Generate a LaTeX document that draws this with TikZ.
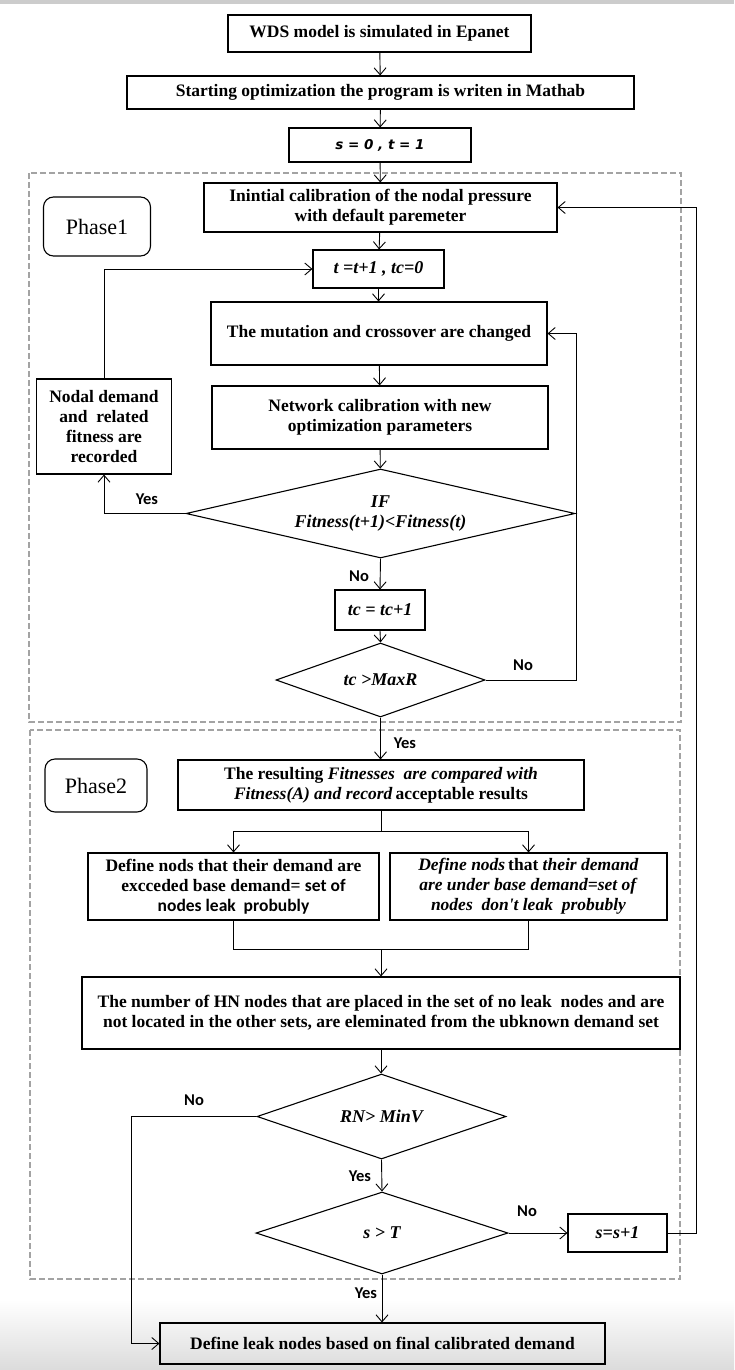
\documentclass[tikz,border=0pt]{standalone}
\usepackage{fontspec}
\setmainfont{Liberation Serif}
\newfontfamily\calfont{Carlito}
\newfontfamily\dvfont{DejaVu Sans}
\usetikzlibrary{arrows.meta,shapes.geometric}
\begin{document}
\begin{tikzpicture}[x=1pt,y=-1pt,
  box/.style={draw, line width=1.1pt, inner sep=0pt, align=center,
    font={\fontsize{17.5}{20}\selectfont\bfseries}},
  dia/.style={draw, diamond, line width=1.1pt, inner sep=0pt},
  dtext/.style={align=center, inner sep=0pt, font={\fontsize{18}{20}\selectfont\bfseries\itshape}},
  arr/.style={-{Straight Barb[length=7pt,width=12pt]}, line width=0.9pt},
  ln/.style={line width=0.9pt},
  lbl/.style={inner sep=0pt, font={\fontsize{16.5}{18}\selectfont\calfont\bfseries}},
  phase/.style={draw, line width=1.1pt, rounded corners=10pt, inner sep=0pt,
    font={\fontsize{22}{24}\selectfont}},
  dashbox/.style={draw=black!36, line width=1.6pt, dash pattern=on 6pt off 3pt}
]
\useasboundingbox (0,0) rectangle (734,1370);
% background strips
\fill[black!20] (0,0) rectangle (734,4);
\shade[top color=white, bottom color=black!14] (0,1300) rectangle (734,1370);

% dashed phase frames
\draw[dashbox] (29,173) rectangle (681,722);
\draw[dashbox] (30,730) rectangle (680,1279);

% nodes
\node[box, minimum width=303, minimum height=37] (wds) at (379.5,33.5) {WDS model is simulated in Epanet};
\node[box, minimum width=507, minimum height=33] (start) at (380.5,92.5) {Starting optimization the program is writen in Mathab};
\node[box, minimum width=182, minimum height=34, font={\fontsize{13.5}{15}\selectfont\dvfont\bfseries\itshape}] (s0) at (380,145) {s = 0 , t = 1};
\node[box, minimum width=353, minimum height=49] (init) at (380.5,207.5) {Inintial calibration of the nodal pressure\\with default paremeter};
\node[phase, minimum width=107, minimum height=59] (ph1) at (97,226.5) {Phase1};
\node[box, minimum width=131, minimum height=38, font={\fontsize{18}{20}\selectfont\bfseries\itshape}] (tt) at (378.5,269) {t =t+1 , tc=0};
\node[box, minimum width=336, minimum height=63] (mut) at (379,333.5) {The mutation and crossover are changed};
\node[box, minimum width=336, minimum height=63] (net) at (380,417.5) {Network calibration with new\\optimization parameters};
\node[box, minimum width=135, minimum height=95] (nodal) at (104,426.5) {Nodal demand\\and\ \ related\\fitness are\\recorded};
\node[dia, minimum width=389, minimum height=89] (if) at (380.5,513.5) {};
\node[dtext] (iftext) at (if.center) {IF\\Fitness(t+1)<Fitness(t)};
\node[box, minimum width=90, minimum height=40, font={\fontsize{18}{20}\selectfont\bfseries\itshape}] (tc) at (380,610) {tc = tc+1};
\node[dia, minimum width=209, minimum height=74] (max) at (380.5,680) {};
\node[dtext] (maxtext) at (max.center) {tc >MaxR};

\node[phase, minimum width=102, minimum height=53] (ph2) at (96,785.5) {Phase2};
\node[box, minimum width=406, minimum height=50] (res) at (381,785) {The resulting \textit{Fitnesses\ \ are compared with}\\\textit{Fitness(A) and record}\,acceptable results};
\node[box, minimum width=291, minimum height=67] (dl) at (233.5,886.5) {Define nods that their demand are\\excceded base demand= {\calfont set of}\\{\calfont nodes leak\ \ probubly}};
\node[box, minimum width=277, minimum height=67] (dr) at (528.5,886.5) {\textit{Define nods}\,that \textit{their demand}\\\textit{are under base demand=set of}\\\textit{nodes\ \ don\textquotesingle t leak\ \ probubly}};
\node[box, minimum width=598, minimum height=72] (hn) at (381,1013) {The number of HN nodes that are placed in the set of no leak\ \ nodes and are\\not located in the other sets, are eleminated from the ubknown demand set};
\node[dia, minimum width=249, minimum height=85] (rn) at (381.5,1116.5) {};
\node[dtext] (rntext) at (rn.center) {RN> MinV};
\node[dia, minimum width=252, minimum height=82] (st) at (382,1233) {};
\node[dtext] (sttext) at (st.center) {s > T};
\node[box, minimum width=99, minimum height=38, font={\fontsize{18}{20}\selectfont\bfseries\itshape}] (ss) at (617.5,1233) {s=s+1};
\node[box, minimum width=445, minimum height=41] (fin) at (382.5,1343.5) {Define leak nodes based on final calibrated demand};

% connectors
\draw[arr] (wds) -- (start);
\draw[arr] (start) -- (s0);
\draw[arr] (s0) -- (init);
\draw[arr] (init) -- (tt);
\draw[arr] (tt.south) -- (mut.north -| tt.south);
\draw[arr] (mut) -- (net);
\draw[arr] (net) -- (if);
\draw[arr] (if.west) -| (nodal.south);
\draw[arr] (nodal.north) |- (tt.west);
\draw[arr] (if.south) -- (tc.north);
\draw[arr] (tc.south) -- (max.north);
\draw[ln] (if.east) -- ++(1,0);
\draw[arr] (max.east) -- ++(91,0) |- (mut.east);
\draw[arr] (max.south) -- (res.north -| max.south);

\coordinate (br) at (381,831);
\draw[ln] (res.south) -- (br);
\draw[arr] (br) -| (dl.north);
\draw[arr] (br) -| (dr.north);
\coordinate (mg) at (381,949);
\draw[ln] (dl.south) |- (mg) -| (dr.south);
\draw[arr] (mg) -- (hn.north);
\draw[arr] (hn.south) -- (rn.north -| hn.south);
\draw[arr] (rn.west) -- ++(-125,0) |- (fin.west);
\draw[arr] (rn.south) -- (st.north);
\draw[arr] (st.east) -- (ss.west);
\draw[arr] (ss.east) -- ++(29,0) |- (init.east);
\draw[arr] (st.south) -- (fin.north -| st.south);

% labels
\node[lbl] at (147,499) {Yes};
\node[lbl] at (359,576) {No};
\node[lbl] at (523,665) {No};
\node[lbl] at (405,743) {Yes};
\node[lbl] at (194,1100) {No};
\node[lbl] at (360,1176) {Yes};
\node[lbl] at (527,1211) {No};
\node[lbl] at (366,1293) {Yes};
\end{tikzpicture}
\end{document}
